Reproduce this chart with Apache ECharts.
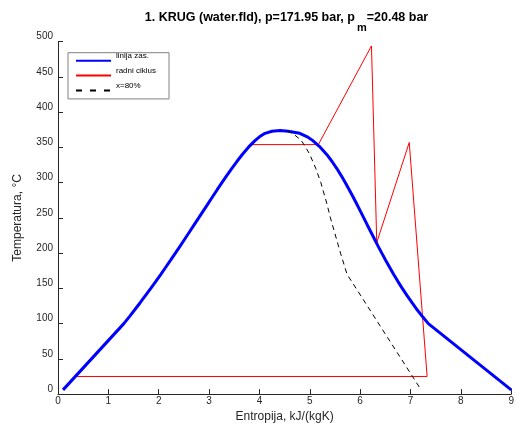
<!DOCTYPE html>
<html>
<head>
<meta charset="utf-8">
<script src="https://cdn.jsdelivr.net/npm/echarts@6/dist/echarts.min.js"></script>
<style>
html,body{margin:0;padding:0;background:#fff;}
#chart{width:517px;height:428px;}
</style>
</head>
<body>
<div id="chart"></div>
<script>
// Saturation line (linija zas.) - liquid branch
var satLiqS = [0.10, 1.307, 1.419, 1.528, 1.635, 1.739, 1.842, 1.943, 2.042, 2.139, 2.236, 2.331, 2.425, 2.518, 2.610, 2.702, 2.794, 2.885, 2.977, 3.069, 3.161, 3.255, 3.351, 3.449, 3.552, 3.660, 3.778, 3.917, 4.001, 4.111, 4.25, 4.41];
var satLiqT = [6, 100, 110, 120, 130, 140, 150, 160, 170, 180, 190, 200, 210, 220, 230, 240, 250, 260, 270, 280, 290, 300, 310, 320, 330, 340, 350, 360, 365, 370, 373, 373.95];
// Saturation line - vapour branch
var satVapS = [4.57, 4.801, 4.950, 5.054, 5.211, 5.336, 5.442, 5.537, 5.624, 5.706, 5.783, 5.858, 5.930, 6.002, 6.072, 6.142, 6.213, 6.284, 6.356, 6.430, 6.506, 6.585, 6.664, 6.749, 6.837, 6.929, 7.027, 7.128, 7.238, 7.354, 9.00];
var satVapT = [373, 370, 365, 360, 350, 340, 330, 320, 310, 300, 290, 280, 270, 260, 250, 240, 230, 220, 210, 200, 190, 180, 170, 160, 150, 140, 130, 120, 110, 100, 6];
// Working cycle (radni ciklus)
var cycleS = [0.35, 1.307, 1.842, 2.331, 2.794, 3.255, 3.552, 3.778, 3.82, 5.17, 6.225, 6.33, 6.975, 7.33, 0.35];
var cycleT = [25, 100, 150, 200, 250, 300, 330, 350, 354, 354, 494, 215, 357, 25, 25];
// Quality line x=80%
var qualS = [4.55, 4.66, 4.83, 4.92, 5.00, 5.12, 5.22, 5.34, 5.41, 5.53, 5.61, 5.74, 7.21];
var qualT = [373.5, 370, 360, 350, 340, 320, 300, 270, 250, 220, 200, 170, 6];
// Axis ticks
var xTicks = {min: 0, max: 9, step: 1};
var yTicks = {min: 0, max: 500, step: 50};
var names = ['linija zas.', 'radni ciklus', 'x=80%'];

function pairs(s, t) { return s.map(function (v, i) { return [v, t[i]]; }); }
var satData = pairs(satLiqS, satLiqT).concat(pairs(satVapS, satVapT));

var FONT = '"Liberation Sans", Arial, Helvetica, sans-serif';
var AX = '#262626';

var chart = echarts.init(document.getElementById('chart'), null, {renderer: 'canvas'});
chart.setOption({
  animation: false,
  backgroundColor: '#fff',
  title: {
    text: '{a|1. KRUG (water.fld), p=171.95 bar, p}{s|m}{a|=20.48 bar}',
    left: 286.5,
    textAlign: 'center',
    top: 16,
    padding: 0,
    textStyle: {
      rich: {
        a: {fontSize: 12.5, fontWeight: 'bold', fontFamily: FONT, color: '#000', lineHeight: 14, padding: [0, 0, 10, 0]},
        s: {fontSize: 11, fontWeight: 'bold', fontFamily: FONT, color: '#000', lineHeight: 14, padding: [10, 0, 0, 2]}
      }
    }
  },
  legend: {
    data: [
      {name: names[0]},
      {name: names[1]},
      {name: names[2], lineStyle: {type: [6, 8]}}
    ],
    orient: 'vertical',
    left: 68,
    top: 52.7,
    padding: [-1, 13, -0.6, 7],
    itemWidth: 35,
    itemHeight: 11,
    itemGap: -3.1,
    borderColor: '#808080',
    borderWidth: 1,
    backgroundColor: '#fff',
    selectedMode: false,
    itemStyle: {opacity: 0},
    formatter: '{t|{name}}',
    textStyle: {
      fontSize: 8, fontFamily: FONT, color: '#000',
      rich: {t: {fontSize: 8, fontFamily: FONT, color: '#000', lineHeight: 1, padding: [0, 0, 10, 0]}}
    }
  },
  grid: {left: 58, right: 2, top: 41.7, bottom: 29.3, containLabel: false},
  xAxis: {
    type: 'value',
    min: xTicks.min, max: xTicks.max, interval: xTicks.step,
    name: 'Entropija, kJ/(kgK)',
    nameLocation: 'middle',
    nameGap: 16,
    nameTextStyle: {fontSize: 12, fontFamily: FONT, color: AX},
    axisLine: {show: true, lineStyle: {color: AX, width: 1}},
    axisTick: {show: true, inside: true, length: 5, lineStyle: {color: AX}},
    axisLabel: {fontSize: 10, fontFamily: FONT, color: AX, margin: 2},
    splitLine: {show: false}
  },
  yAxis: {
    type: 'value',
    min: yTicks.min, max: yTicks.max, interval: yTicks.step,
    name: 'Temperatura, °C',
    nameLocation: 'middle',
    nameGap: 34,
    nameTextStyle: {fontSize: 12, fontFamily: FONT, color: AX},
    axisLine: {show: true, lineStyle: {color: AX, width: 1}},
    axisTick: {show: true, inside: true, length: 5, lineStyle: {color: AX}},
    axisLabel: {fontSize: 10, fontFamily: FONT, color: AX, margin: 5, verticalAlign: 'bottom'},
    splitLine: {show: false}
  },
  series: [
    {
      name: names[1], type: 'line', data: pairs(cycleS, cycleT),
      symbol: 'none', smooth: false, z: 2,
      lineStyle: {color: '#ff0000', width: 1}, itemStyle: {color: '#ff0000'}
    },
    {
      name: names[0], type: 'line', data: satData,
      symbol: 'none', smooth: false, z: 3,
      lineStyle: {color: '#0000ff', width: 3}, itemStyle: {color: '#0000ff'}
    },
    {
      name: names[2], type: 'line', data: pairs(qualS, qualT),
      symbol: 'none', smooth: false, z: 4,
      lineStyle: {color: '#000000', width: 1, type: [5, 4]}, itemStyle: {color: '#000000'}
    }
  ]
});
</script>
</body>
</html>
